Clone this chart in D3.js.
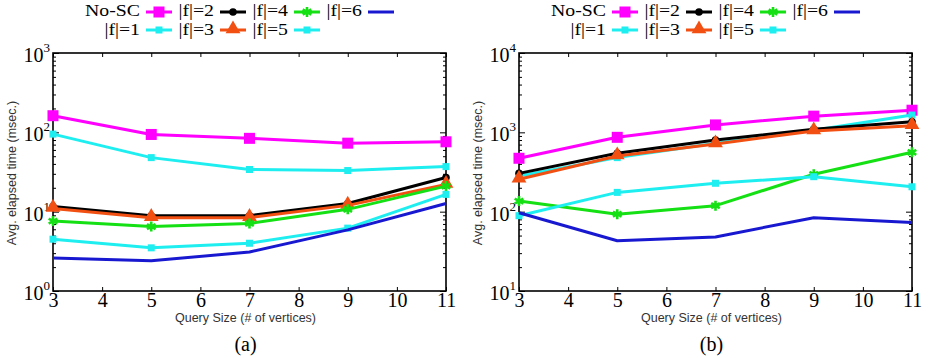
<!DOCTYPE html>
<html>
<head>
<meta charset="utf-8">
<script src="https://cdn.jsdelivr.net/npm/d3@7"></script>
<style>
body { margin: 0; background: #fff; }
svg { display: block; }
</style>
</head>
<body>
<svg id="chart" width="933" height="358"></svg>
<script>
const querySizes = [3, 5, 7, 9, 11];
const xTicks = [3, 4, 5, 6, 7, 8, 9, 10, 11];
const seriesNames = ["No-SC", "|f|=1", "|f|=2", "|f|=3", "|f|=4", "|f|=5", "|f|=6"];
const panelLabels = ["(a)", "(b)"];

// panel (a)
const noScA = [162, 94, 84, 73, 76];
const f1A = [95, 48, 34, 33, 37];
const f2A = [11.6, 8.9, 8.9, 12.7, 27];
const f3A = [11, 8.4, 8.4, 12, 22];
const f4A = [7.6, 6.5, 7.1, 10.7, 21];
const f5A = [4.5, 3.5, 4.0, 6.2, 16.5];
const f6A = [2.6, 2.4, 3.1, 5.9, 12.7];
const yDomainA = [1, 1000];

// panel (b)
const noScB = [471, 865, 1240, 1600, 1900];
const f1B = [282, 480, 730, 1060, 1650];
const f2B = [304, 545, 800, 1090, 1360];
const f3B = [256, 502, 713, 1040, 1210];
const f4B = [136, 93, 119, 296, 560];
const f5B = [89, 175, 228, 276, 206];
const f6B = [97, 43, 48, 84, 73];
const yDomainB = [10, 10000];

const colors = ["#ff00ff", "#1eeef0", "#000000", "#f24f12", "#14e014", "#1eeef0", "#1818d0"];
const markers = ["square", "smallsq", "circle", "triangle", "asterisk", "smallsq", null];

const panels = [
  {left: 53, label: panelLabels[0], domain: yDomainA, data: [noScA, f1A, f2A, f3A, f4A, f5A, f6A]},
  {left: 519, label: panelLabels[1], domain: yDomainB, data: [noScB, f1B, f2B, f3B, f4B, f5B, f6B]}
];

const plotW = 393, plotTop = 53, plotBottom = 291;
const serif = "'Liberation Serif', 'Times New Roman', serif";
const sans = "'Liberation Sans', Arial, sans-serif";

const svg = d3.select("#chart");

function drawMarker(g, type, x, y, color) {
  if (type === "square") {
    g.append("rect").attr("x", x - 5.5).attr("y", y - 5.5).attr("width", 11).attr("height", 11).attr("fill", color);
  } else if (type === "smallsq") {
    g.append("rect").attr("x", x - 3.5).attr("y", y - 3.5).attr("width", 7).attr("height", 7).attr("fill", color);
  } else if (type === "circle") {
    g.append("circle").attr("cx", x).attr("cy", y).attr("r", 3.8).attr("fill", color);
  } else if (type === "triangle") {
    g.append("path").attr("d", d3.symbol(d3.symbolTriangle, 95)())
      .attr("transform", `translate(${x},${y - 1})`).attr("fill", color);
  } else if (type === "asterisk") {
    g.append("path").attr("d", d3.symbol(d3.symbolAsterisk, 70)())
      .attr("transform", `translate(${x},${y})`)
      .attr("fill", "none").attr("stroke", color).attr("stroke-width", 2.6);
  }
}

panels.forEach(p => {
  const x = d3.scaleLinear().domain([3, 11]).range([p.left, p.left + plotW]);
  const y = d3.scaleLog().domain(p.domain).range([plotBottom, plotTop]);
  const g = svg.append("g");

  // minor + major ticks for log axis
  const lo = Math.log10(p.domain[0]), hi = Math.log10(p.domain[1]);
  const majors = d3.range(lo, hi + 1).map(e => Math.pow(10, e));
  const minors = [];
  d3.range(lo, hi).forEach(e => { for (let m = 2; m <= 9; m++) minors.push(m * Math.pow(10, e)); });

  const axisStyle = sel => { sel.select(".domain").remove(); sel.selectAll("line").attr("stroke", "#000").attr("stroke-width", 1); };

  g.append("g").attr("transform", `translate(${p.left},0)`)
    .call(d3.axisLeft(y).tickValues(minors).tickSize(-3).tickFormat("")).call(axisStyle);
  g.append("g").attr("transform", `translate(${p.left + plotW},0)`)
    .call(d3.axisRight(y).tickValues(minors).tickSize(-3).tickFormat("")).call(axisStyle);
  g.append("g").attr("transform", `translate(${p.left + plotW},0)`)
    .call(d3.axisRight(y).tickValues(majors).tickSize(-6).tickFormat("")).call(axisStyle);

  const yAx = g.append("g").attr("transform", `translate(${p.left},0)`)
    .call(d3.axisLeft(y).tickValues(majors).tickSize(-6).tickPadding(3));
  yAx.call(axisStyle);
  yAx.selectAll(".tick text").each(function(d) {
    const t = d3.select(this).text("").attr("font-family", serif).attr("font-size", 20)
      .attr("fill", "#000").attr("dy", "0.42em").attr("x", -3);
    t.append("tspan").text("10");
    t.append("tspan").text(Math.round(Math.log10(d))).attr("font-size", 13).attr("dy", "-0.75em");
  });

  g.append("g").attr("transform", `translate(0,${plotTop})`)
    .call(d3.axisTop(x).tickValues(xTicks).tickSize(-4).tickFormat("")).call(axisStyle);
  const xAx = g.append("g").attr("transform", `translate(0,${plotBottom})`)
    .call(d3.axisBottom(x).tickValues(xTicks).tickSize(-4).tickPadding(2));
  xAx.call(axisStyle);
  xAx.selectAll(".tick text").attr("font-family", serif).attr("font-size", 20).attr("fill", "#000");

  // frame
  g.append("rect").attr("x", p.left).attr("y", plotTop).attr("width", plotW).attr("height", plotBottom - plotTop)
    .attr("fill", "none").attr("stroke", "#000").attr("stroke-width", 1.6);

  // series
  const line = d3.line().x((d, i) => x(querySizes[i])).y(d => y(d));
  p.data.forEach((vals, si) => {
    const sg = g.append("g");
    sg.append("path").attr("d", line(vals)).attr("fill", "none")
      .attr("stroke", colors[si]).attr("stroke-width", 3).attr("stroke-linejoin", "round");
    if (markers[si]) vals.forEach((v, i) => drawMarker(sg, markers[si], x(querySizes[i]), y(v), colors[si]));
  });

  // axis titles
  g.append("text").attr("x", p.left + plotW / 2 - 4).attr("y", 322).attr("text-anchor", "middle")
    .attr("font-family", sans).attr("font-size", 12.5).attr("fill", "#333").text("Query Size (# of vertices)");
  g.append("text").attr("transform", `translate(${p.left - 37},173) rotate(-90)`).attr("text-anchor", "middle")
    .attr("font-family", sans).attr("font-size", 12.5).attr("fill", "#333").text("Avg. elapsed time (msec.)");
  g.append("text").attr("x", p.left + plotW / 2 - 4).attr("y", 351).attr("text-anchor", "middle")
    .attr("font-family", serif).attr("font-size", 20).attr("fill", "#000").text(p.label);

  // legend: 2 rows, filled column by column (text a bit stretched like the original)
  const lg = g.append("g");
  seriesNames.forEach((name, si) => {
    const col = Math.floor(si / 2), row = si % 2;
    const textEnd = p.left + 87 + col * 74;
    const base = row === 0 ? 16 : 34.5;
    const ly = row === 0 ? 12 : 30;
    lg.append("text").attr("transform", `translate(${textEnd},${base}) scale(1.2,1)`).attr("text-anchor", "end")
      .attr("font-family", serif).attr("font-size", 16.5).attr("fill", "#000").text(name);
    lg.append("line").attr("x1", textEnd + 6).attr("x2", textEnd + 32).attr("y1", ly).attr("y2", ly)
      .attr("stroke", colors[si]).attr("stroke-width", 3);
    if (markers[si]) drawMarker(lg, markers[si], textEnd + 19, ly, colors[si]);
  });
});
</script>
</body>
</html>
